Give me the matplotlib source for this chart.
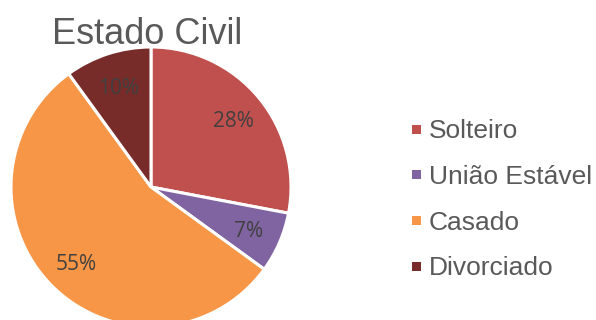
import matplotlib
matplotlib.use("Agg")
import matplotlib.pyplot as plt
from matplotlib.patches import Rectangle

# Dados do gráfico
categorias = ['Solteiro', 'União Estável', 'Casado', 'Divorciado']
valores = [28, 7, 55, 10]
cores = ['#C0504D', '#8064A2', '#F79646', '#772C2A']

W, H = 596, 320
fig = plt.figure(figsize=(W / 100, H / 100), dpi=100)

# Pizza: centro (151, 187) px, raio 140 px
cx, cy, r = 151, 187, 140
ax = fig.add_axes([(cx - r) / W, (H - cy - r) / H, 2 * r / W, 2 * r / H])
wedges, textos, pcts = ax.pie(
    valores, colors=cores, startangle=90, counterclock=False, radius=1,
    autopct='%1.0f%%', pctdistance=0.76,
    wedgeprops=dict(edgecolor='white', linewidth=2.2),
    textprops=dict(color='#404040', fontsize=15, family='Open Sans'))
for t in pcts:
    t.set_va('center_baseline')
ax.set_xlim(-1, 1)
ax.set_ylim(-1, 1)
ax.set_aspect('auto')
ax.axis('off')

fig.text(147 / W, 1 - 43.5 / H, 'Estado Civil', ha='center', va='baseline',
         fontsize=26, color='#595959', family='Liberation Sans')

# Legenda
base0, passo = 138.3, 45.6
for i, (nome, cor) in enumerate(zip(categorias, cores)):
    yb = base0 + i * passo
    yq = yb - 9
    fig.patches.append(Rectangle((412 / W, 1 - (yq + 4.5) / H), 9 / W, 9 / H,
                                 transform=fig.transFigure, facecolor=cor,
                                 edgecolor='none'))
    fig.text(429 / W, 1 - yb / H, nome, ha='left', va='baseline',
             fontsize=19, color='#595959', family='Liberation Sans')

fig.savefig('out.png', dpi=100)
